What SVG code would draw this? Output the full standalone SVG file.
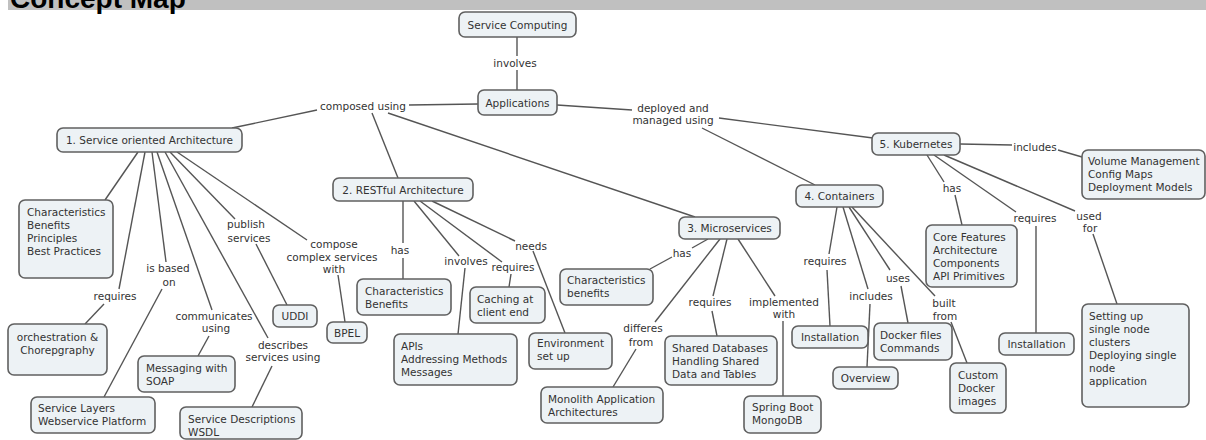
<svg xmlns="http://www.w3.org/2000/svg" width="1206" height="440" viewBox="0 0 1206 440">
<style>
.n rect{fill:#edf2f5;stroke:#606060;stroke-width:1.6}
text{font-family:"DejaVu Sans",Verdana,sans-serif;font-size:10.5px;fill:#333}
.c{text-anchor:middle}
#connectors line{stroke:#555;stroke-width:1.4;fill:none}
</style>
<rect width="1206" height="440" fill="#fff"/>
<rect x="8" y="0" width="1198" height="10" fill="#c0c0c0"/>
<text x="10" y="8" style="font-family:'Liberation Sans',Arial,sans-serif;font-weight:bold;font-size:28px;fill:#000">Concept Map</text>
<g id="connectors">
<line x1="517" y1="37" x2="517" y2="56"/><line x1="517" y1="70" x2="517" y2="90"/>
<line x1="478" y1="104" x2="409" y2="105"/>
<line x1="317" y1="110" x2="232" y2="128"/>
<line x1="372" y1="113" x2="398" y2="178"/>
<line x1="388" y1="113" x2="695" y2="217"/>
<line x1="557" y1="105" x2="632" y2="110"/>
<line x1="719" y1="118" x2="873" y2="138"/>
<line x1="702" y1="128" x2="815" y2="185"/>
<line x1="960" y1="144" x2="1012" y2="145"/>
<line x1="1058" y1="150" x2="1082" y2="157"/>
<line x1="927" y1="155" x2="944" y2="182"/>
<line x1="955" y1="195" x2="962" y2="225"/>
<line x1="934" y1="155" x2="1016" y2="212"/>
<line x1="1036" y1="226" x2="1036" y2="333"/>
<line x1="944" y1="155" x2="1075" y2="211"/>
<line x1="1093" y1="234" x2="1117" y2="304"/>
<line x1="837" y1="207" x2="829" y2="254"/>
<line x1="827" y1="270" x2="830" y2="326"/>
<line x1="843" y1="207" x2="868" y2="289"/>
<line x1="870" y1="304" x2="867" y2="367"/>
<line x1="849" y1="207" x2="890" y2="270"/>
<line x1="901" y1="286" x2="908" y2="323"/>
<line x1="852" y1="207" x2="935" y2="296"/>
<line x1="951" y1="322" x2="967" y2="363"/>
<line x1="708" y1="239" x2="692" y2="248"/>
<line x1="672" y1="257" x2="650" y2="269"/>
<line x1="720" y1="239" x2="655" y2="322"/>
<line x1="636" y1="349" x2="613" y2="387"/>
<line x1="727" y1="239" x2="713" y2="296"/>
<line x1="712" y1="311" x2="717" y2="336"/>
<line x1="738" y1="239" x2="775" y2="296"/>
<line x1="783" y1="321" x2="783" y2="396"/>
<line x1="403" y1="201" x2="403" y2="243"/>
<line x1="403" y1="258" x2="403" y2="279"/>
<line x1="414" y1="201" x2="459" y2="256"/>
<line x1="465" y1="268" x2="458" y2="334"/>
<line x1="420" y1="201" x2="502" y2="262"/>
<line x1="511" y1="274" x2="509" y2="287"/>
<line x1="432" y1="201" x2="515" y2="241"/>
<line x1="533" y1="251" x2="565" y2="333"/>
<line x1="138" y1="152" x2="105" y2="200"/>
<line x1="145" y1="152" x2="119" y2="289"/>
<line x1="104" y1="304" x2="85" y2="324"/>
<line x1="152" y1="152" x2="166" y2="262"/>
<line x1="162" y1="289" x2="104" y2="397"/>
<line x1="157" y1="152" x2="212" y2="310"/>
<line x1="209" y1="336" x2="198" y2="356"/>
<line x1="165" y1="152" x2="268" y2="338"/>
<line x1="272" y1="366" x2="252" y2="407"/>
<line x1="170" y1="152" x2="235" y2="219"/>
<line x1="256" y1="244" x2="287" y2="305"/>
<line x1="177" y1="152" x2="307" y2="240"/>
<line x1="338" y1="275" x2="345" y2="322"/>
</g>
<g id="labels">
<text class="c" x="515" y="67">involves</text>
<text class="c" x="363" y="110">composed using</text>
<text class="c" x="673" y="112">deployed and</text>
<text class="c" x="673" y="124">managed using</text>
<text class="c" x="1035" y="151">includes</text>
<text class="c" x="952" y="192">has</text>
<text class="c" x="1035" y="222">requires</text>
<text class="c" x="1089" y="220">used</text>
<text class="c" x="1090" y="232">for</text>
<text class="c" x="825" y="265">requires</text>
<text class="c" x="871" y="300">includes</text>
<text class="c" x="898" y="282">uses</text>
<text class="c" x="944" y="307">built</text>
<text class="c" x="945" y="320">from</text>
<text class="c" x="682" y="257">has</text>
<text class="c" x="643" y="332">differes</text>
<text class="c" x="641" y="346">from</text>
<text class="c" x="710" y="306">requires</text>
<text class="c" x="784" y="306">implemented</text>
<text class="c" x="784" y="318">with</text>
<text class="c" x="400" y="254">has</text>
<text class="c" x="466" y="265">involves</text>
<text class="c" x="513" y="271">requires</text>
<text class="c" x="531" y="250">needs</text>
<text class="c" x="115" y="300">requires</text>
<text class="c" x="168" y="272">is based</text>
<text class="c" x="169" y="286">on</text>
<text class="c" x="214" y="320">communicates</text>
<text class="c" x="216" y="332">using</text>
<text class="c" x="283" y="349">describes</text>
<text class="c" x="283" y="361">services using</text>
<text class="c" x="246" y="228">publish</text>
<text class="c" x="249" y="242">services</text>
<text class="c" x="334" y="248">compose</text>
<text class="c" x="332" y="261">complex services</text>
<text class="c" x="334" y="273">with</text>
</g>
<g id="n-service-computing" class="n"><rect x="459" y="12" width="117" height="25" rx="6"/><text class="c" x="517.5" y="28.5">Service Computing</text></g>
<g id="n-applications" class="n"><rect x="478" y="90" width="79" height="25" rx="6"/><text class="c" x="517.5" y="106.5">Applications</text></g>
<g id="n-soa" class="n"><rect x="57" y="128" width="185" height="24" rx="6"/><text class="c" x="149.5" y="144">1. Service oriented Architecture</text></g>
<g id="n-rest" class="n"><rect x="333" y="178" width="140" height="23" rx="6"/><text class="c" x="403" y="193.5">2. RESTful Architecture</text></g>
<g id="n-micro" class="n"><rect x="679" y="217" width="101" height="22" rx="6"/><text class="c" x="729.5" y="232">3. Microservices</text></g>
<g id="n-containers" class="n"><rect x="796" y="185" width="87" height="22" rx="6"/><text class="c" x="839.5" y="200">4. Containers</text></g>
<g id="n-kubernetes" class="n"><rect x="872" y="133" width="88" height="22" rx="6"/><text class="c" x="916" y="148">5. Kubernetes</text></g>
<g id="n-volume" class="n"><rect x="1082" y="150" width="123" height="49" rx="6"/><text x="1088" y="165">Volume Management</text><text x="1088" y="178">Config Maps</text><text x="1088" y="191">Deployment Models</text></g>
<g id="n-core" class="n"><rect x="926" y="225" width="91" height="62" rx="6"/><text x="933" y="241">Core Features</text><text x="933" y="254">Architecture</text><text x="933" y="267">Components</text><text x="933" y="280">API Primitives</text></g>
<g id="n-k8s-install" class="n"><rect x="999" y="333" width="75" height="22" rx="6"/><text class="c" x="1036.5" y="348">Installation</text></g>
<g id="n-setting" class="n"><rect x="1082" y="304" width="107" height="103" rx="6"/><text x="1089" y="320">Setting up</text><text x="1089" y="333">single node</text><text x="1089" y="346">clusters</text><text x="1089" y="359">Deploying single</text><text x="1089" y="372">node</text><text x="1089" y="385">application</text></g>
<g id="n-cont-install" class="n"><rect x="792" y="326" width="76" height="22" rx="6"/><text class="c" x="830" y="341">Installation</text></g>
<g id="n-overview" class="n"><rect x="833" y="367" width="65" height="22" rx="6"/><text class="c" x="865.5" y="382">Overview</text></g>
<g id="n-dockerfiles" class="n"><rect x="874" y="323" width="78" height="37" rx="6"/><text x="880" y="339">Docker files</text><text x="880" y="352">Commands</text></g>
<g id="n-custom" class="n"><rect x="950" y="363" width="56" height="50" rx="6"/><text x="958" y="379">Custom</text><text x="958" y="392">Docker</text><text x="958" y="405">images</text></g>
<g id="n-micro-chars" class="n"><rect x="560" y="269" width="93" height="36" rx="6"/><text x="567" y="284">Characteristics</text><text x="567" y="297">benefits</text></g>
<g id="n-monolith" class="n"><rect x="541" y="387" width="122" height="36" rx="6"/><text x="548" y="403">Monolith Application</text><text x="548" y="416">Architectures</text></g>
<g id="n-shared" class="n"><rect x="665" y="336" width="112" height="49" rx="6"/><text x="672" y="352">Shared Databases</text><text x="672" y="365">Handling Shared</text><text x="672" y="378">Data and Tables</text></g>
<g id="n-spring" class="n"><rect x="744" y="396" width="77" height="37" rx="6"/><text x="752" y="411">Spring Boot</text><text x="752" y="424">MongoDB</text></g>
<g id="n-rest-chars" class="n"><rect x="357" y="279" width="94" height="36" rx="6"/><text x="365" y="295">Characteristics</text><text x="365" y="308">Benefits</text></g>
<g id="n-apis" class="n"><rect x="394" y="334" width="123" height="51" rx="6"/><text x="401" y="350">APIs</text><text x="401" y="363">Addressing Methods</text><text x="401" y="376">Messages</text></g>
<g id="n-caching" class="n"><rect x="470" y="287" width="75" height="36" rx="6"/><text x="477" y="303">Caching at</text><text x="477" y="316">client end</text></g>
<g id="n-env" class="n"><rect x="529" y="333" width="83" height="36" rx="6"/><text x="537" y="347">Environment</text><text x="537" y="360">set up</text></g>
<g id="n-soa-chars" class="n"><rect x="19" y="200" width="94" height="78" rx="6"/><text x="27" y="216">Characteristics</text><text x="27" y="229">Benefits</text><text x="27" y="242">Principles</text><text x="27" y="255">Best Practices</text></g>
<g id="n-orch" class="n"><rect x="8" y="324" width="99" height="51" rx="6"/><text class="c" x="57.5" y="341">orchestration &amp;</text><text class="c" x="57.5" y="354">Chorepgraphy</text></g>
<g id="n-layers" class="n"><rect x="31" y="397" width="124" height="36" rx="6"/><text x="38" y="412">Service Layers</text><text x="38" y="425">Webservice Platform</text></g>
<g id="n-messaging" class="n"><rect x="138" y="356" width="97" height="36" rx="6"/><text x="146" y="372">Messaging with</text><text x="146" y="385">SOAP</text></g>
<g id="n-descriptions" class="n"><rect x="180" y="407" width="122" height="32" rx="6"/><text x="188" y="423">Service Descriptions</text><text x="188" y="436">WSDL</text></g>
<g id="n-uddi" class="n"><rect x="273" y="305" width="44" height="22" rx="6"/><text class="c" x="295" y="320">UDDI</text></g>
<g id="n-bpel" class="n"><rect x="327" y="322" width="40" height="21" rx="6"/><text class="c" x="347" y="336.5">BPEL</text></g>
</svg>
